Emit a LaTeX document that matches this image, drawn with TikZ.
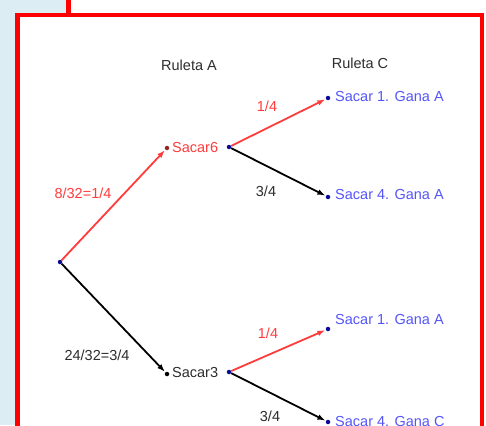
\documentclass[tikz,border=0pt]{standalone}
\usepackage{fontspec}
\setmainfont{Liberation Sans}
\usetikzlibrary{arrows.meta}
\definecolor{rojoC}{RGB}{255,60,60}
\definecolor{azulC}{RGB}{85,85,250}
\definecolor{puntoC}{RGB}{10,10,150}
\definecolor{textoC}{RGB}{45,45,45}
\definecolor{fondoC}{RGB}{220,237,243}
\definecolor{marcoC}{RGB}{255,0,0}
\tikzset{
  rama/.style={-{Latex[length=2.8mm,width=2mm]}, line width=1.8pt, draw=#1, shorten >=0.5pt},
  punto/.style={circle, fill=#1, inner sep=0pt, minimum size=4.5pt},
  etiq/.style={font=\fontsize{14.5}{16}\selectfont, text=#1, inner sep=1pt},
}

\begin{document}
\begin{tikzpicture}[x=1pt, y=-1pt]
        \useasboundingbox (0,0) rectangle (486,425);
        \clip (0,0) rectangle (486,425);
        % fondo y marco
        \fill[white] (0,0) rectangle (486,425);
        \fill[fondoC] (0,0) rectangle (15,425);
        \fill[fondoC] (0,0) rectangle (68,14);
        \draw[marcoC, line width=4.5pt] (68.5,-2) -- (68.5,15);
        \draw[marcoC, line width=4.5pt] (17.5,15) rectangle (482,440);
        % titulos
        \node[etiq=textoC] (rA) at (189,65) {Ruleta A};
        \node[etiq=textoC] (rC) at (360,63) {Ruleta C};
        % puntos
        \node[punto=puntoC] (raiz) at (60,262) {};
        \node[punto=rojoC!60!black] (f6) at (167,148) {};
        \node[punto=black] (f3) at (167,374) {};
        \node[punto=puntoC] (i6) at (229,147) {};
        \node[punto=puntoC] (i3) at (229,372) {};
        \node[punto=puntoC] (e1) at (328,98) {};
        \node[punto=puntoC] (e2) at (328,197) {};
        \node[punto=puntoC] (e3) at (328,329) {};
        \node[punto=puntoC] (e4) at (328,422) {};
        % textos
        \node[etiq=rojoC, anchor=west] (s6) at (171,148) {Sacar6};
        \node[etiq=textoC, anchor=west] (s3) at (171,373) {Sacar3};
        \node[etiq=azulC, anchor=west] (g1) at (334,97) {Sacar 1. Gana A};
        \node[etiq=azulC, anchor=west] (g2) at (334,195) {Sacar 4. Gana A};
        \node[etiq=azulC, anchor=west] (g3) at (334,320) {Sacar 1. Gana A};
        \node[etiq=azulC, anchor=west] (g4) at (334,422) {Sacar 4. Gana C};
        \node[etiq=rojoC] (p6) at (83,193) {8/32=1/4};
        \node[etiq=textoC] (p3) at (97,355) {24/32=3/4};
        \node[etiq=rojoC] (q1) at (267,106) {1/4};
        \node[etiq=textoC] (q2) at (266,191) {3/4};
        \node[etiq=rojoC] (q3) at (268,333) {1/4};
        \node[etiq=textoC] (q4) at (270,416) {3/4};
        % ramas
        \draw[rama=rojoC] (raiz) -- (f6);
        \draw[rama=black] (raiz) -- (f3);
        \draw[rama=rojoC] (i6) -- (e1);
        \draw[rama=black] (i6) -- (e2);
        \draw[rama=rojoC] (i3) -- (e3);
        \draw[rama=black] (i3) -- (e4);
      \end{tikzpicture}
\end{document}
